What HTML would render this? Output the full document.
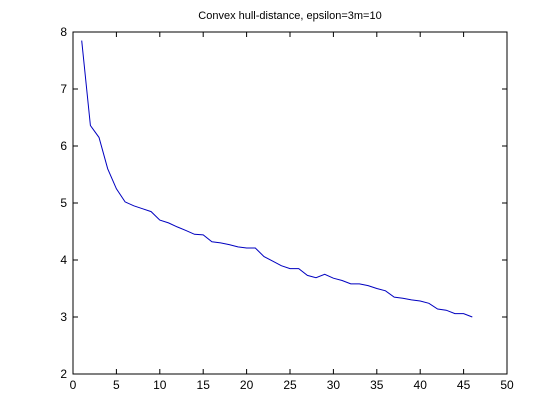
<!DOCTYPE html>
<html><head><meta charset="utf-8"><style>
body{margin:0;background:#fff;}
svg{display:block;font-family:"Liberation Sans",sans-serif;}
</style></head><body>
<svg id="c" width="560" height="420">
<rect x="0" y="0" width="560" height="420" fill="#fff"/>
<text x="290" y="19" font-size="11" text-anchor="middle">Convex hull-distance, epsilon=3m=10</text>
<rect x="73" y="32" width="434" height="342" fill="none" stroke="#000" stroke-width="1"/>
<g id="ax"></g>
<path id="ln" fill="none" stroke="#0000c0" stroke-width="1"/>
</svg>
<script>
const xVals=[1,2,3,4,5,6,7,8,9,10,11,12,13,14,15,16,17,18,19,20,21,22,23,24,25,26,27,28,29,30,31,32,33,34,35,36,37,38,39,40,41,42,43,44,45,46];
const yVals=[7.85,6.36,6.15,5.6,5.25,5.02,4.95,4.9,4.85,4.7,4.65,4.58,4.52,4.45,4.44,4.32,4.3,4.27,4.23,4.21,4.21,4.06,3.98,3.9,3.85,3.85,3.73,3.69,3.75,3.68,3.64,3.58,3.58,3.55,3.5,3.46,3.35,3.33,3.3,3.28,3.24,3.14,3.12,3.06,3.06,3.0];
const xTicks=[0,5,10,15,20,25,30,35,40,45,50];
const yTicks=[2,3,4,5,6,7,8];
const L=73,R=507,T=32,B=374;
const sx=v=>L+(v-0)/(50-0)*(R-L);
const sy=v=>B-(v-2)/(8-2)*(B-T);
const ns="http://www.w3.org/2000/svg";
const ax=document.getElementById('ax');
function mk(t,a){const e=document.createElementNS(ns,t);for(const k in a)e.setAttribute(k,a[k]);ax.appendChild(e);return e;}
xTicks.forEach(v=>{const x=sx(v);
 let t=mk('line',{x1:x,x2:x,y1:B,y2:B-5,stroke:'#000'});
 
 
 t=mk('line',{x1:x,x2:x,y1:T,y2:T+5,stroke:'#000'});
 
 
 const l=mk('text',{x:x,y:B+15,'font-size':12,'text-anchor':'middle'});l.textContent=v;
 
 
});
yTicks.forEach(v=>{const y=sy(v);
 let t=mk('line',{x1:L,x2:L+5,y1:y,y2:y,stroke:'#000'});
 
 
 t=mk('line',{x1:R,x2:R-5,y1:y,y2:y,stroke:'#000'});
 
 
 const l=mk('text',{x:L-6,y:y+4,'font-size':12,'text-anchor':'end'});l.textContent=v;
 
 
});
document.getElementById('ln').setAttribute('d',xVals.map((x,i)=>(i?'L':'M')+sx(x).toFixed(1)+','+sy(yVals[i]).toFixed(1)).join(''));
</script>
</body></html>
